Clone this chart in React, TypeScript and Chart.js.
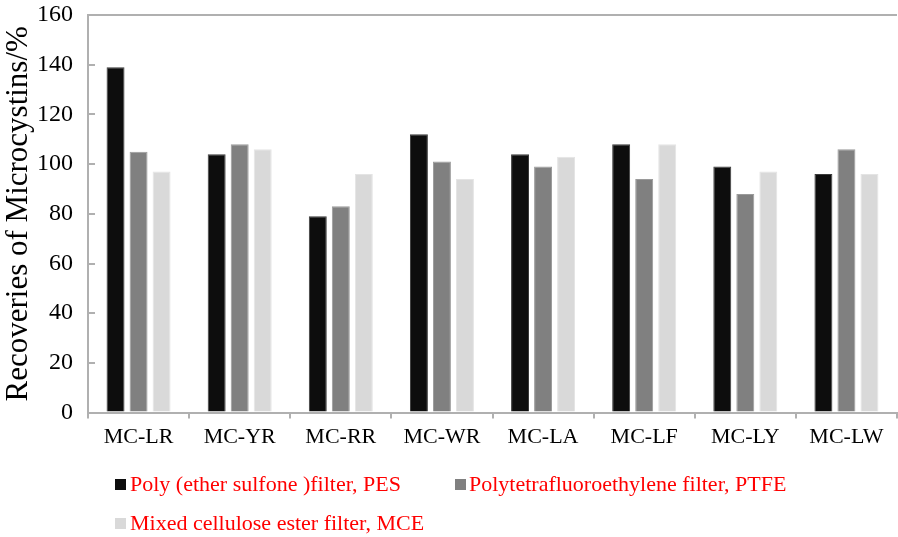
import React, { useEffect, useRef } from "react";
import { Chart, registerables } from "chart.js";

Chart.register(...registerables);

const categories = ["MC-LR", "MC-YR", "MC-RR", "MC-WR", "MC-LA", "MC-LF", "MC-LY", "MC-LW"];
const pesValues = [139, 104, 79, 112, 104, 108, 99, 96];
const ptfeValues = [105, 108, 83, 101, 99, 94, 88, 106];
const mceValues = [97, 106, 96, 94, 103, 108, 97, 96];
const seriesNames = [
  "Poly (ether sulfone )filter, PES",
  "Polytetrafluoroethylene filter, PTFE",
  "Mixed cellulose ester filter, MCE",
];
const yTickMax = 160;
const yTickStep = 20;
const yTitle = "Recoveries of Microcystins/%";

const FONT = '"Liberation Serif", "Times New Roman", serif';
const AXIS = "#b0b0b0";
const colors = ["#0d0d0d", "#808080", "#d9d9d9"];
const borders = ["#3a3a3a", "#9a9a9a", "#e4e4e4"];

const innerTicks = {
  id: "innerTicks",
  afterDraw(chart: any) {
    const y = chart.scales.y;
    const ctx = chart.ctx;
    const left = chart.chartArea.left;
    ctx.save();
    ctx.strokeStyle = AXIS;
    ctx.lineWidth = 2;
    y.ticks.forEach((t: any) => {
      if (t.value === 0 || t.value === yTickMax) return;
      const py = Math.round(y.getPixelForValue(t.value));
      ctx.beginPath();
      ctx.moveTo(left, py);
      ctx.lineTo(left + 7, py);
      ctx.stroke();
    });
    ctx.restore();
  },
};

export default function App() {
  const ref = useRef<HTMLCanvasElement | null>(null);
  useEffect(() => {
    document.body.style.margin = "0";
    const sets = [pesValues, ptfeValues, mceValues].map((d, i) => ({
      label: seriesNames[i],
      data: d,
      backgroundColor: colors[i],
      borderColor: borders[i],
      borderWidth: 1,
      categoryPercentage: 0.683,
      barPercentage: 0.78,
    }));
    const chart = new Chart(ref.current!, {
      type: "bar",
      data: { labels: categories, datasets: sets },
      options: {
        animation: false,
        responsive: false,
        maintainAspectRatio: false,
        layout: { padding: { top: 15, right: 1, bottom: 82, left: 0 } },
        plugins: { legend: { display: false }, tooltip: { enabled: false } },
        scales: {
          x: {
            grid: { drawOnChartArea: false, drawTicks: true, tickLength: 6, color: AXIS, lineWidth: 2 },
            border: { color: AXIS, width: 2 },
            ticks: { color: "#000", font: { family: FONT, size: 22 }, padding: 5 },
          },
          y: {
            min: 0,
            max: yTickMax,
            ticks: { stepSize: yTickStep, color: "#000", font: { family: FONT, size: 24 }, padding: 15 },
            grid: {
              drawTicks: false,
              lineWidth: 2,
              color: (c: any) => (c.tick && c.tick.value === yTickMax ? AXIS : "rgba(0,0,0,0)"),
            },
            border: { color: AXIS, width: 2 },
            title: { display: true, text: yTitle, color: "#000", font: { family: FONT, size: 31 }, padding: 0 },
            afterFit: (s: any) => {
              s.width = 88;
              s.paddingTop = 0;
              s.paddingBottom = 0;
            },
          },
        },
      },
      plugins: [innerTicks],
    });
    return () => chart.destroy();
  }, []);

  const textStyle: React.CSSProperties = {
    position: "absolute",
    fontFamily: FONT,
    fontSize: 22,
    color: "#ff0000",
    whiteSpace: "nowrap",
    lineHeight: "24px",
  };
  const marker = (x: number, cy: number, c: string): React.CSSProperties => ({
    position: "absolute",
    left: x,
    top: cy - 5.5,
    width: 11,
    height: 11,
    background: c,
  });
  return (
    <div style={{ position: "relative", width: 898, height: 537 }}>
      <canvas ref={ref} width={898} height={537} style={{ display: "block" }} />
      <div style={marker(115, 484, colors[0])} />
      <div style={{ ...textStyle, left: 130, top: 484 - 12 }}>{seriesNames[0]}</div>
      <div style={marker(455, 484, colors[1])} />
      <div style={{ ...textStyle, left: 469, top: 484 - 12 }}>{seriesNames[1]}</div>
      <div style={marker(115, 523, colors[2])} />
      <div style={{ ...textStyle, left: 130, top: 523 - 12 }}>{seriesNames[2]}</div>
    </div>
  );
}
